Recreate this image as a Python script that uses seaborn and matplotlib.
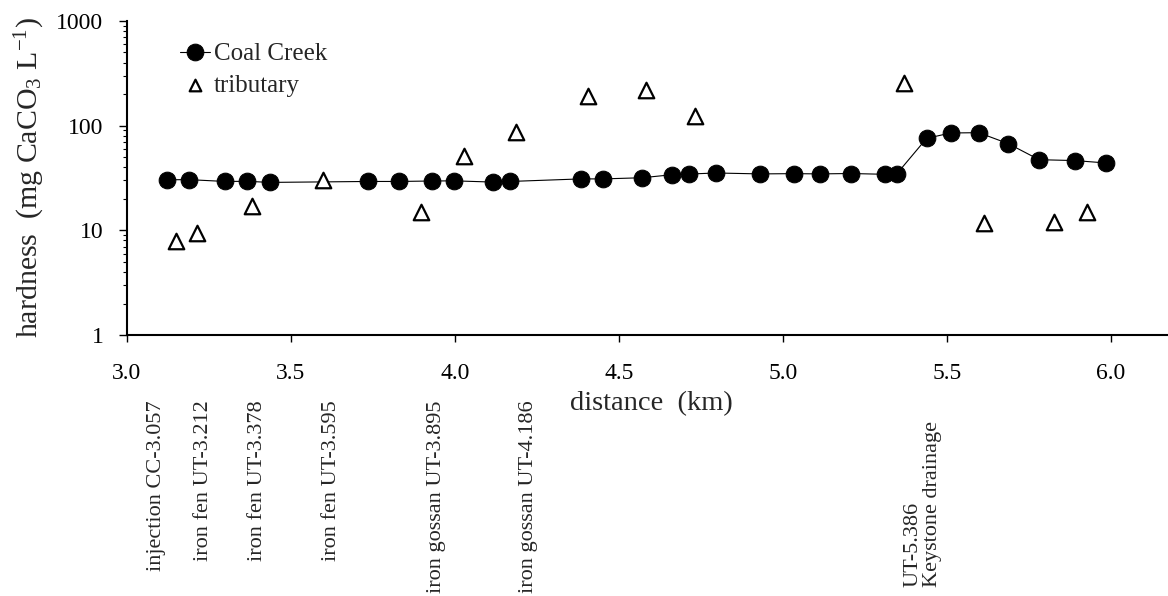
import matplotlib
matplotlib.use("Agg")
import matplotlib.pyplot as plt
import matplotlib.ticker as mticker
import matplotlib.transforms as mtransforms
import seaborn as sns
import pandas as pd

# ---- data ----
cc_distance = [3.121, 3.189, 3.299, 3.366, 3.436, 3.735, 3.828, 3.929, 3.997, 4.117,
               4.168, 4.384, 4.452, 4.571, 4.662, 4.714, 4.796, 4.930, 5.034, 5.113,
               5.206, 5.311, 5.348, 5.438, 5.511, 5.597, 5.687, 5.781, 5.890, 5.985]
cc_hardness = [30.4, 30.5, 29.3, 29.4, 28.7, 29.3, 29.3, 29.6, 29.7, 28.9,
               29.3, 31.0, 31.0, 31.8, 34.0, 34.5, 35.3, 34.6, 34.8, 34.6,
               34.9, 34.3, 34.9, 75.6, 85.1, 85.7, 67.3, 47.3, 46.4, 44.0]

trib_distance = [3.149, 3.213, 3.380, 3.597, 3.895, 4.028, 4.186, 4.406, 4.584, 4.732,
                 5.369, 5.613, 5.826, 5.928]
trib_hardness = [7.9, 9.5, 16.9, 30.0, 15.1, 50.8, 86.3, 190, 218, 123,
                 256, 11.7, 12.0, 14.9]

site_names = ["injection CC-3.057", "iron fen UT-3.212", "iron fen UT-3.378",
              "iron fen UT-3.595", "iron gossan UT-3.895", "iron gossan UT-4.186",
              "UT-5.386\nKeystone drainage"]
site_label_x = [3.090, 3.232, 3.399, 3.624, 3.944, 4.223, 5.427]

x_ticks = [3.0, 3.5, 4.0, 4.5, 5.0, 5.5, 6.0]
y_ticks = [1, 10, 100, 1000]

cc_df = pd.DataFrame({"distance": cc_distance, "hardness": cc_hardness})
trib_df = pd.DataFrame({"distance": trib_distance, "hardness": trib_hardness})

# ---- style ----
sns.set_theme(style="ticks")
plt.rcParams["font.family"] = ["Liberation Serif", "DejaVu Serif"]
plt.rcParams["mathtext.fontset"] = "custom"
plt.rcParams["mathtext.rm"] = "Liberation Serif"
plt.rcParams["mathtext.it"] = "Liberation Serif:italic"
FS_TICK = 17
FS_XLAB = 20.5
FS_YLAB = 21.5
FS_LEG = 18
FS_SITE = 16

fig = plt.figure(figsize=(11.68, 5.96), dpi=100)
ax = fig.add_axes([0.1087, 0.4379, 1.0 - 0.1087, 0.9648 - 0.4379])

sns.lineplot(data=cc_df, x="distance", y="hardness", ax=ax, sort=False,
             color="black", linewidth=0.8, marker="o", markersize=12,
             markeredgecolor="black", markerfacecolor="black",
             label="Coal Creek", zorder=3)
sns.scatterplot(data=trib_df, x="distance", y="hardness", ax=ax,
                marker="^", s=125, facecolor="white", edgecolor="black",
                linewidth=1.6, label="tributary", zorder=4)

ax.set_yscale("log")
ax.set_ylim(1, 1000)
ax.set_xlim(3.0, 6.174)
ax.set_xticks(x_ticks)
ax.xaxis.set_major_formatter(mticker.FormatStrFormatter("%.1f"))
ax.set_yticks(y_ticks)
ax.yaxis.set_major_formatter(mticker.FuncFormatter(lambda v, p: f"{int(round(v))}"))
ax.yaxis.set_minor_locator(mticker.LogLocator(base=10, subs=range(2, 10)))
ax.yaxis.set_minor_formatter(mticker.NullFormatter())

for s in ["top", "right"]:
    ax.spines[s].set_visible(False)
for s in ["left", "bottom"]:
    ax.spines[s].set_linewidth(1.5)
    ax.spines[s].set_color("black")

ax.tick_params(axis="x", which="major", direction="out", length=5, width=1,
               pad=15, labelsize=FS_TICK, colors="black")
ax.tick_params(axis="y", which="major", direction="out", length=6, width=1,
               pad=11, labelsize=FS_TICK, colors="black")
ax.tick_params(axis="y", which="minor", direction="out", length=3, width=0.8,
               colors="black")

ax.set_xlabel("distance  (km)", fontsize=FS_XLAB)
ax.xaxis.set_label_coords(0.504, -0.18)
ax.set_ylabel(r"hardness  (mg CaCO$_3$ L$^{-1}$)", fontsize=FS_YLAB, labelpad=7)

leg = ax.legend(loc="upper left", bbox_to_anchor=(0.051, 0.93), frameon=False,
                fontsize=FS_LEG, handlelength=1.2, handletextpad=0.15,
                labelspacing=0.35, borderpad=0, borderaxespad=0)
try:
    leg.legend_handles[1].set_sizes([70])
except Exception:
    pass

trans = mtransforms.blended_transform_factory(ax.transData, ax.transAxes)
for name, xpos in zip(site_names, site_label_x):
    if "\n" in name:
        ax.text(xpos, -0.803, name, transform=trans, rotation=90, ha="center",
                va="bottom", fontsize=FS_SITE, multialignment="left", linespacing=1.0)
    else:
        ax.text(xpos, -0.207, name, transform=trans, rotation=90, ha="center",
                va="top", fontsize=FS_SITE)

fig.savefig("out.png", dpi=100, facecolor="white")
